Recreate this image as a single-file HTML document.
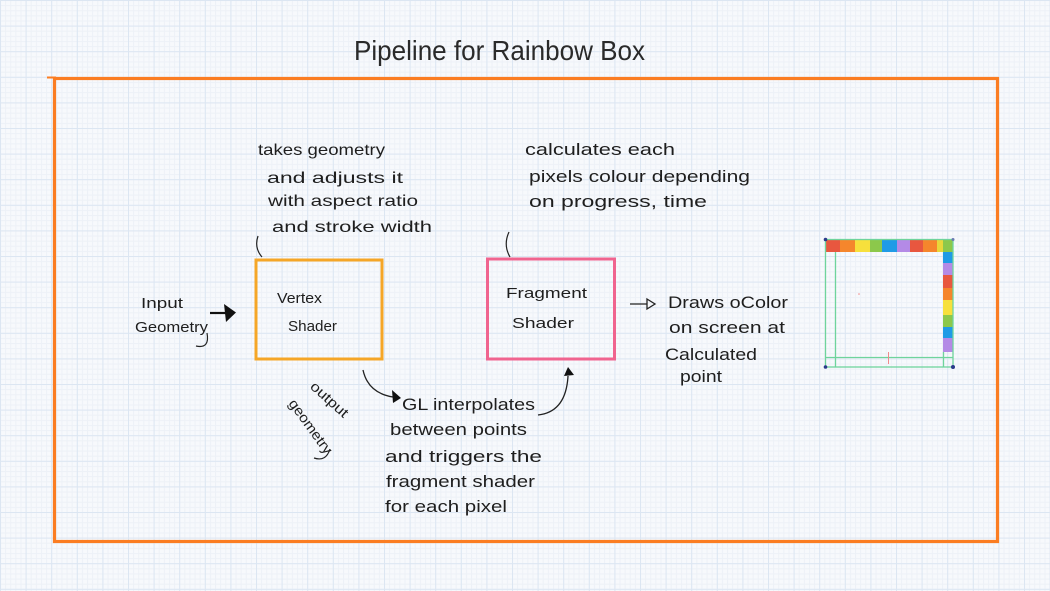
<!DOCTYPE html>
<html>
<head>
<meta charset="utf-8">
<style>
  html,body{margin:0;padding:0;background:#f6f8fb;}
  body{width:1050px;height:591px;overflow:hidden;}
  svg{display:block;}
  text{font-family:"Liberation Sans","DejaVu Sans",sans-serif;fill:#1e1e1e;}
</style>
</head>
<body>
<svg width="1050" height="591" viewBox="0 0 1050 591" xmlns="http://www.w3.org/2000/svg">
  <defs>
    <pattern id="minor" patternUnits="userSpaceOnUse" width="5.12" height="5.12">
      <path d="M0 0.5 H5.12 M0.5 0 V5.12" stroke="#edf1f7" stroke-width="1" fill="none"/>
    </pattern>
    <pattern id="major" patternUnits="userSpaceOnUse" width="25.6" height="25.6">
      <path d="M0 0.5 H25.6 M0.5 0 V25.6" stroke="#dce6f2" stroke-width="1" fill="none"/>
    </pattern>
  </defs>
  <rect width="1050" height="591" fill="#f7f9fc"/>
  <rect width="1050" height="591" fill="url(#minor)"/>
  <rect width="1050" height="591" fill="url(#major)"/>

  <!-- Title -->
  <text x="354" y="60" font-size="28" textLength="291" lengthAdjust="spacingAndGlyphs" style="fill:#2a2a2a">Pipeline for Rainbow Box</text>

  <!-- Orange frame -->
  <rect x="54.5" y="78.5" width="943" height="463" fill="none" stroke="#fb7d22" stroke-width="3.2"/>
  <path d="M47 77.5 H56" stroke="#fb7d22" stroke-width="2"/>

  <!-- Vertex annotation -->
  <text x="258" y="155" font-size="16" textLength="127" lengthAdjust="spacingAndGlyphs">takes geometry</text>
  <text x="267" y="183" font-size="16" textLength="136" lengthAdjust="spacingAndGlyphs">and adjusts it</text>
  <text x="268" y="206" font-size="16" textLength="150" lengthAdjust="spacingAndGlyphs">with aspect ratio</text>
  <text x="272" y="232" font-size="16" textLength="160" lengthAdjust="spacingAndGlyphs">and stroke width</text>
  <path d="M258 236 Q254 248 262 257" fill="none" stroke="#222" stroke-width="1.2"/>

  <!-- Vertex Shader box -->
  <rect x="256" y="260" width="126" height="99" fill="none" stroke="#f5a627" stroke-width="3"/>
  <text x="277" y="303" font-size="15" textLength="45" lengthAdjust="spacingAndGlyphs">Vertex</text>
  <text x="288" y="331" font-size="15" textLength="49" lengthAdjust="spacingAndGlyphs">Shader</text>

  <!-- Input Geometry -->
  <text x="141" y="308" font-size="15" textLength="42" lengthAdjust="spacingAndGlyphs">Input</text>
  <text x="135" y="332" font-size="15" textLength="73" lengthAdjust="spacingAndGlyphs">Geometry</text>
  <path d="M207 333 Q210 349 196 346" fill="none" stroke="#222" stroke-width="1.2"/>
  <path d="M210 313 H226" stroke="#111" stroke-width="2.2"/>
  <path d="M224 304 L236 312.5 L226 322 Z" fill="#111"/>

  <!-- output geometry rotated -->
  <text transform="translate(329 400) rotate(42)" x="0" y="4" font-size="14" text-anchor="middle" textLength="46" lengthAdjust="spacingAndGlyphs">output</text>
  <text transform="translate(310 427) rotate(54)" x="0" y="4" font-size="14" text-anchor="middle" textLength="64" lengthAdjust="spacingAndGlyphs">geometry</text>
  <path d="M330 449 Q326 462 314 458" fill="none" stroke="#222" stroke-width="1.2"/>

  <!-- Arrow vertex -> GL -->
  <path d="M363 370 Q368 393 393 397" fill="none" stroke="#222" stroke-width="1.3"/>
  <path d="M392 390 L401 398 L393 403 Z" fill="#111"/>

  <!-- GL interpolates text -->
  <text x="402" y="410" font-size="17" textLength="133" lengthAdjust="spacingAndGlyphs">GL interpolates</text>
  <text x="390" y="435" font-size="17" textLength="137" lengthAdjust="spacingAndGlyphs">between points</text>
  <text x="385" y="462" font-size="17" textLength="157" lengthAdjust="spacingAndGlyphs">and triggers the</text>
  <text x="386" y="487" font-size="17" textLength="149" lengthAdjust="spacingAndGlyphs">fragment shader</text>
  <text x="385" y="512" font-size="17" textLength="122" lengthAdjust="spacingAndGlyphs">for each pixel</text>

  <!-- Arrow GL -> fragment -->
  <path d="M538 415 Q566 412 568 376" fill="none" stroke="#222" stroke-width="1.3"/>
  <path d="M564 376 L568 367 L574 375 Z" fill="#111"/>

  <!-- Fragment annotation -->
  <text x="525" y="155" font-size="17" textLength="150" lengthAdjust="spacingAndGlyphs">calculates each</text>
  <text x="529" y="182" font-size="17" textLength="221" lengthAdjust="spacingAndGlyphs">pixels colour depending</text>
  <text x="529" y="207" font-size="17" textLength="178" lengthAdjust="spacingAndGlyphs">on progress, time</text>
  <path d="M509 232 Q503 245 510 257" fill="none" stroke="#222" stroke-width="1.2"/>

  <!-- Fragment Shader box -->
  <rect x="487.5" y="259" width="127" height="100" fill="none" stroke="#f0648f" stroke-width="3"/>
  <text x="506" y="298" font-size="15" textLength="81" lengthAdjust="spacingAndGlyphs">Fragment</text>
  <text x="512" y="328" font-size="15" textLength="62" lengthAdjust="spacingAndGlyphs">Shader</text>

  <!-- Arrow to Draws -->
  <path d="M630 304 H647" stroke="#222" stroke-width="1.3"/>
  <path d="M647 299 L655 304 L647 309 Z" fill="none" stroke="#222" stroke-width="1.3"/>

  <text x="668" y="308" font-size="17" textLength="120" lengthAdjust="spacingAndGlyphs">Draws oColor</text>
  <text x="669" y="333" font-size="17" textLength="116" lengthAdjust="spacingAndGlyphs">on screen at</text>
  <text x="665" y="360" font-size="17" textLength="92" lengthAdjust="spacingAndGlyphs">Calculated</text>
  <text x="680" y="382" font-size="17" textLength="42" lengthAdjust="spacingAndGlyphs">point</text>

  <!-- Rainbow box -->
  <g>
    <!-- top stripe -->
    <rect x="825" y="239" width="15" height="13" fill="#e8573f"/>
    <rect x="840" y="239" width="15" height="13" fill="#f5862c"/>
    <rect x="855" y="239" width="15" height="13" fill="#f7e03c"/>
    <rect x="870" y="239" width="12" height="13" fill="#8cc84b"/>
    <rect x="882" y="239" width="15" height="13" fill="#1f9be6"/>
    <rect x="897" y="239" width="13" height="13" fill="#b48ae6"/>
    <rect x="910" y="239" width="13" height="13" fill="#e8573f"/>
    <rect x="923" y="239" width="14" height="13" fill="#f5862c"/>
    <rect x="937" y="239" width="6" height="13" fill="#e8d83a"/>
    <rect x="943" y="239" width="10" height="13" fill="#8cc84b"/>
    <!-- right stripe -->
    <rect x="943" y="252" width="10" height="11" fill="#1f9be6"/>
    <rect x="943" y="263" width="10" height="12" fill="#b48ae6"/>
    <rect x="943" y="275" width="10" height="13" fill="#e8573f"/>
    <rect x="943" y="288" width="10" height="12" fill="#f5862c"/>
    <rect x="943" y="300" width="10" height="15" fill="#f7e03c"/>
    <rect x="943" y="315" width="10" height="12" fill="#8cc84b"/>
    <rect x="943" y="327" width="10" height="11" fill="#1f9be6"/>
    <rect x="943" y="338" width="10" height="14" fill="#b48ae6"/>
    <!-- green guide lines -->
    <rect x="825.5" y="239.5" width="127.5" height="127.5" fill="none" stroke="#6fd49c" stroke-width="1.3"/>
    <path d="M835.5 252 V367 M943.5 352 V367 M825 357.5 H953" stroke="#6fd49c" stroke-width="1.3" fill="none"/>
    <path d="M888.5 352 V364" stroke="#f08a8a" stroke-width="1"/>
    <circle cx="859" cy="294" r="0.8" fill="#f08a8a"/>
    <!-- corner dots -->
    <circle cx="825.5" cy="239.5" r="1.8" fill="#2a3a8a"/>
    <circle cx="953" cy="239.5" r="1.5" fill="#6a7ab0"/>
    <circle cx="825.5" cy="367" r="1.8" fill="#2a3a8a"/>
    <circle cx="953" cy="367" r="2" fill="#2a3a8a"/>
  </g>
</svg>
</body>
</html>
